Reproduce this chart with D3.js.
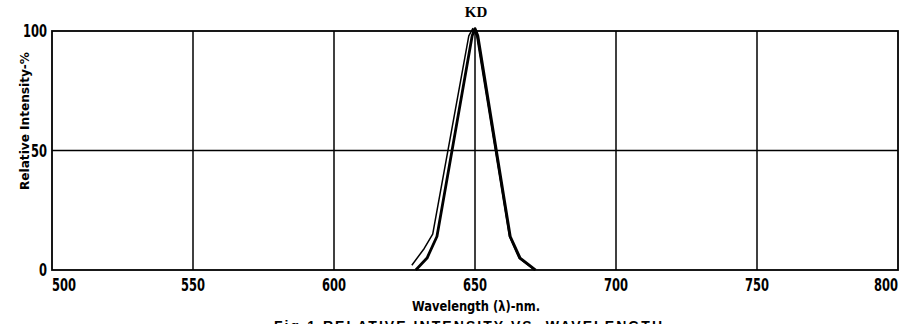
<!DOCTYPE html>
<html>
<head>
<meta charset="utf-8">
<script src="https://cdn.jsdelivr.net/npm/d3@7"></script>
<style>
  body { margin: 0; background: #fff; }
  .narrow { font-family: "Liberation Sans Narrow", "Arial Narrow", "DejaVu Sans", sans-serif; font-stretch: condensed; font-weight: bold; }
</style>
</head>
<body>
<div id="chart"></div>
<script>
const wavelengthTicks = [500, 550, 600, 650, 700, 750, 800];
const intensityTicks = [0, 50, 100];

// KD spectrum, two traces drawn close together
const kdWavelength = [629, 633, 636.5, 649, 650, 651, 662.5, 666, 671.5];
const kdIntensity = [0, 5, 14, 98, 101, 98, 14, 5, 0];
const kd2Wavelength = [627.6, 632, 635, 647.8, 649.2, 650.6, 662.2, 665.6, 671];
const kd2Intensity = [2, 9, 15, 98, 101, 98, 14, 5, 0];

const width = 909, height = 324;
const margin = { top: 31, right: 11, bottom: 54, left: 52 };

const svg = d3.select('#chart')
  .append('svg')
  .attr('width', width)
  .attr('height', height);

const x = d3.scaleLinear().domain([500, 800]).range([margin.left, width - margin.right]);
const y = d3.scaleLinear().domain([0, 100]).range([height - margin.bottom, margin.top]);

// grid
const grid = svg.append('g').attr('stroke', '#000').attr('stroke-width', 1.5);
grid.selectAll('.vgrid')
  .data(wavelengthTicks.slice(1, -1))
  .join('line')
  .attr('x1', d => x(d)).attr('x2', d => x(d))
  .attr('y1', y(0)).attr('y2', y(100));
grid.selectAll('.hgrid')
  .data(intensityTicks.slice(1, -1))
  .join('line')
  .attr('x1', x(500)).attr('x2', x(800))
  .attr('y1', d => y(d)).attr('y2', d => y(d));
svg.append('rect')
  .attr('x', x(500)).attr('y', y(100))
  .attr('width', x(800) - x(500)).attr('height', y(0) - y(100))
  .attr('fill', 'none').attr('stroke', '#000').attr('stroke-width', 1.8);

// tick labels (squeezed to the narrow look of the original)
svg.append('g').selectAll('text')
  .data(wavelengthTicks)
  .join('text')
  .attr('class', 'narrow')
  .attr('x', d => x(d))
  .attr('y', 291)
  .attr('font-size', 17)
  .attr('textLength', d => String(d).length * 8)
  .attr('lengthAdjust', 'spacingAndGlyphs')
  .attr('text-anchor', (d, i) => i === 0 ? 'start' : (i === wavelengthTicks.length - 1 ? 'end' : 'middle'))
  .text(d => d);

svg.append('g').selectAll('text')
  .data(intensityTicks)
  .join('text')
  .attr('class', 'narrow')
  .attr('x', 47)
  .attr('y', d => y(d) + 6)
  .attr('font-size', 17)
  .attr('textLength', d => String(d).length * 8)
  .attr('lengthAdjust', 'spacingAndGlyphs')
  .attr('text-anchor', 'end')
  .text(d => d);

// axis titles
svg.append('text')
  .attr('class', 'narrow')
  .attr('transform', 'translate(29,121) rotate(-90)')
  .attr('font-size', 13)
  .attr('textLength', 138)
  .attr('lengthAdjust', 'spacingAndGlyphs')
  .attr('text-anchor', 'middle')
  .text('Relative Intensity-%');

svg.append('text')
  .attr('class', 'narrow')
  .attr('x', 476).attr('y', 311)
  .attr('font-size', 14)
  .attr('textLength', 128)
  .attr('lengthAdjust', 'spacingAndGlyphs')
  .attr('text-anchor', 'middle')
  .text('Wavelength (λ)-nm.');

svg.append('text')
  .attr('x', 476).attr('y', 17)
  .attr('font-family', '"Liberation Serif", "DejaVu Serif", serif')
  .attr('font-weight', 'bold')
  .attr('font-size', 15)
  .attr('text-anchor', 'middle')
  .text('KD');

svg.append('text')
  .attr('x', 274).attr('y', 331)
  .attr('font-family', '"Liberation Sans", Arial, sans-serif')
  .attr('font-weight', 'bold')
  .attr('font-size', 14)
  .attr('textLength', 388)
  .attr('lengthAdjust', 'spacing')
  .text('Fig.1  RELATIVE  INTENSITY  VS.  WAVELENGTH');

// curves
const line = d3.line()
  .x(d => x(d[0]))
  .y(d => y(d[1]));

const traceA = kdWavelength.map((w, i) => [w, kdIntensity[i]]);
const traceB = kd2Wavelength.map((w, i) => [w, kd2Intensity[i]]);

svg.append('path')
  .datum(traceB)
  .attr('fill', 'none')
  .attr('stroke', '#000')
  .attr('stroke-width', 1.5)
  .attr('stroke-linejoin', 'round')
  .attr('d', line);

svg.append('path')
  .datum(traceA)
  .attr('fill', 'none')
  .attr('stroke', '#000')
  .attr('stroke-width', 2.8)
  .attr('stroke-linejoin', 'round')
  .attr('d', line);
</script>
</body>
</html>
